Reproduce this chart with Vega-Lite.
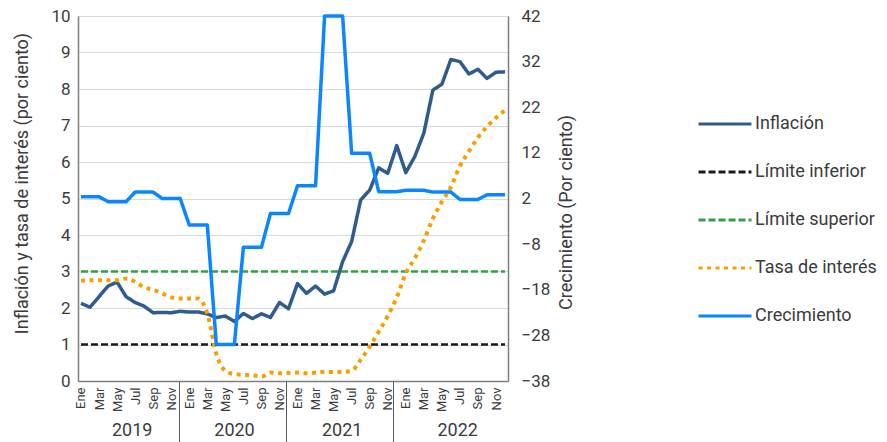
{
  "$schema": "https://vega.github.io/schema/vega-lite/v6.json",
  "width": 430,
  "height": 365,
  "autosize": {"type": "none"},
  "padding": {"left": 78, "top": 16, "right": 379, "bottom": 61},
  "background": "white",
  "config": {
    "view": {"stroke": null},
    "font": "Roboto",
    "axis": {
      "labelFont": "Roboto",
      "titleFont": "Roboto",
      "labelColor": "#3b3b3b",
      "titleColor": "#3b3b3b",
      "titleFontWeight": "normal",
      "ticks": false,
      "grid": false,
      "domainColor": "#7f7f7f",
      "domainWidth": 1.5
    },
    "legend": {
      "symbolType": "stroke",
      "symbolSize": 2800,
      "symbolStrokeWidth": 3,
      "labelFont": "Roboto",
      "labelFontSize": 18,
      "labelColor": "#3b3b3b",
      "labelOffset": 2,
      "rowPadding": 11,
      "padding": 0
    }
  },
  "data": {
    "values": [
      {"i": 0, "inf": 2.13, "tasa": 2.75, "crec": 2.4, "li": 1, "ls": 3},
      {"i": 1, "inf": 2.02, "tasa": 2.76, "crec": 2.4, "li": 1, "ls": 3},
      {"i": 2, "inf": 2.31, "tasa": 2.76, "crec": 2.4, "li": 1, "ls": 3},
      {"i": 3, "inf": 2.6, "tasa": 2.76, "crec": 1.3, "li": 1, "ls": 3},
      {"i": 4, "inf": 2.71, "tasa": 2.76, "crec": 1.3, "li": 1, "ls": 3},
      {"i": 5, "inf": 2.31, "tasa": 2.81, "crec": 1.3, "li": 1, "ls": 3},
      {"i": 6, "inf": 2.15, "tasa": 2.72, "crec": 3.4, "li": 1, "ls": 3},
      {"i": 7, "inf": 2.05, "tasa": 2.57, "crec": 3.4, "li": 1, "ls": 3},
      {"i": 8, "inf": 1.87, "tasa": 2.5, "crec": 3.4, "li": 1, "ls": 3},
      {"i": 9, "inf": 1.88, "tasa": 2.4, "crec": 2.0, "li": 1, "ls": 3},
      {"i": 10, "inf": 1.87, "tasa": 2.29, "crec": 2.0, "li": 1, "ls": 3},
      {"i": 11, "inf": 1.91, "tasa": 2.26, "crec": 2.0, "li": 1, "ls": 3},
      {"i": 12, "inf": 1.89, "tasa": 2.26, "crec": -3.8, "li": 1, "ls": 3},
      {"i": 13, "inf": 1.89, "tasa": 2.26, "crec": -3.8, "li": 1, "ls": 3},
      {"i": 14, "inf": 1.84, "tasa": 1.85, "crec": -3.8, "li": 1, "ls": 3},
      {"i": 15, "inf": 1.74, "tasa": 0.74, "crec": -30, "li": 1, "ls": 3},
      {"i": 16, "inf": 1.78, "tasa": 0.28, "crec": -30, "li": 1, "ls": 3},
      {"i": 17, "inf": 1.63, "tasa": 0.19, "crec": -30, "li": 1, "ls": 3},
      {"i": 18, "inf": 1.85, "tasa": 0.17, "crec": -8.7, "li": 1, "ls": 3},
      {"i": 19, "inf": 1.71, "tasa": 0.16, "crec": -8.7, "li": 1, "ls": 3},
      {"i": 20, "inf": 1.84, "tasa": 0.12, "crec": -8.7, "li": 1, "ls": 3},
      {"i": 21, "inf": 1.74, "tasa": 0.23, "crec": -1.3, "li": 1, "ls": 3},
      {"i": 22, "inf": 2.15, "tasa": 0.21, "crec": -1.3, "li": 1, "ls": 3},
      {"i": 23, "inf": 1.98, "tasa": 0.22, "crec": -1.3, "li": 1, "ls": 3},
      {"i": 24, "inf": 2.67, "tasa": 0.23, "crec": 4.8, "li": 1, "ls": 3},
      {"i": 25, "inf": 2.4, "tasa": 0.21, "crec": 4.8, "li": 1, "ls": 3},
      {"i": 26, "inf": 2.6, "tasa": 0.23, "crec": 4.8, "li": 1, "ls": 3},
      {"i": 27, "inf": 2.38, "tasa": 0.25, "crec": 42, "li": 1, "ls": 3},
      {"i": 28, "inf": 2.47, "tasa": 0.25, "crec": 42, "li": 1, "ls": 3},
      {"i": 29, "inf": 3.27, "tasa": 0.25, "crec": 42, "li": 1, "ls": 3},
      {"i": 30, "inf": 3.82, "tasa": 0.28, "crec": 11.9, "li": 1, "ls": 3},
      {"i": 31, "inf": 4.96, "tasa": 0.58, "crec": 11.9, "li": 1, "ls": 3},
      {"i": 32, "inf": 5.23, "tasa": 0.94, "crec": 11.9, "li": 1, "ls": 3},
      {"i": 33, "inf": 5.84, "tasa": 1.35, "crec": 3.5, "li": 1, "ls": 3},
      {"i": 34, "inf": 5.69, "tasa": 1.78, "crec": 3.5, "li": 1, "ls": 3},
      {"i": 35, "inf": 6.45, "tasa": 2.29, "crec": 3.5, "li": 1, "ls": 3},
      {"i": 36, "inf": 5.71, "tasa": 2.95, "crec": 3.8, "li": 1, "ls": 3},
      {"i": 37, "inf": 6.15, "tasa": 3.36, "crec": 3.8, "li": 1, "ls": 3},
      {"i": 38, "inf": 6.79, "tasa": 3.85, "crec": 3.8, "li": 1, "ls": 3},
      {"i": 39, "inf": 7.97, "tasa": 4.45, "crec": 3.4, "li": 1, "ls": 3},
      {"i": 40, "inf": 8.13, "tasa": 4.91, "crec": 3.4, "li": 1, "ls": 3},
      {"i": 41, "inf": 8.81, "tasa": 5.31, "crec": 3.4, "li": 1, "ls": 3},
      {"i": 42, "inf": 8.75, "tasa": 5.89, "crec": 1.8, "li": 1, "ls": 3},
      {"i": 43, "inf": 8.41, "tasa": 6.29, "crec": 1.8, "li": 1, "ls": 3},
      {"i": 44, "inf": 8.54, "tasa": 6.67, "crec": 1.8, "li": 1, "ls": 3},
      {"i": 45, "inf": 8.29, "tasa": 6.97, "crec": 2.8, "li": 1, "ls": 3},
      {"i": 46, "inf": 8.46, "tasa": 7.21, "crec": 2.8, "li": 1, "ls": 3},
      {"i": 47, "inf": 8.47, "tasa": 7.42, "crec": 2.8, "li": 1, "ls": 3}
    ]
  },
  "layer": [
    {
      "mark": {"type": "line", "strokeWidth": 3.5, "strokeJoin": "round"},
      "encoding": {
        "x": {
          "field": "i", "type": "quantitative",
          "scale": {"domain": [-0.33, 47.33], "nice": false, "zero": false},
          "axis": {
            "orient": "bottom",
            "title": null,
            "values": [0, 2, 4, 6, 8, 10, 12, 14, 16, 18, 20, 22, 24, 26, 28, 30, 32, 34, 36, 38, 40, 42, 44, 46],
            "labelExpr": "['Ene','Feb','Mar','Abr','May','Jun','Jul','Ago','Sep','Oct','Nov','Dic'][datum.value % 12]",
            "labelAngle": 270,
            "labelAlign": "right",
            "labelBaseline": "middle",
            "labelFontSize": 13,
            "labelPadding": 6,
            "labelOverlap": false,
            "labelFlush": false,
            "domain": true
          }
        },
        "y": {
          "field": "inf", "type": "quantitative",
          "scale": {"domain": [0, 10], "nice": false, "zero": false},
          "axis": {
            "orient": "left",
            "title": "Inflación y tasa de interés (por ciento)",
            "titleFontSize": 18,
            "titlePadding": 19,
            "titleY": 167,
            "values": [0, 1, 2, 3, 4, 5, 6, 7, 8, 9, 10],
            "labelFontSize": 17,
            "labelPadding": 8,
            "grid": true,
            "gridColor": "#d9d9d9",
            "gridWidth": 1,
            "domain": true
          }
        },
        "color": {
          "datum": "Inflación",
          "scale": {"domain": ["Inflación", "Límite inferior", "Límite superior", "Tasa de interés", "Crecimiento"], "range": ["#2f5b8e", "#1a1a1a", "#2ca244", "#f5a000", "#0a86ff"]},
          "legend": {"title": null, "orient": "none", "legendX": 619, "legendY": 80}
        },
        "strokeDash": {
          "datum": "Inflación",
          "scale": {"domain": ["Inflación", "Límite inferior", "Límite superior", "Tasa de interés", "Crecimiento"], "range": [[1, 0], [7, 3], [7, 3], [4, 4.5], [1, 0]]},
          "legend": {"title": null, "orient": "none", "legendX": 619, "legendY": 80}
        }
      }
    },
    {
      "mark": {"type": "line", "strokeWidth": 2.5},
      "encoding": {
        "x": {
          "field": "i", "type": "quantitative",
          "scale": {"domain": [-0.33, 47.33], "nice": false, "zero": false},
          "axis": {
            "orient": "bottom",
            "title": null,
            "values": [10.9, 22.72, 34.58],
            "labels": false,
            "ticks": true,
            "tickSize": 62,
            "tickColor": "#595959",
            "tickWidth": 1,
            "domain": false,
            "grid": false
          }
        },
        "y": {
          "field": "li", "type": "quantitative",
          "scale": {"domain": [0, 10], "nice": false, "zero": false},
          "axis": null
        },
        "color": {
          "datum": "Límite inferior",
          "scale": {"domain": ["Inflación", "Límite inferior", "Límite superior", "Tasa de interés", "Crecimiento"], "range": ["#2f5b8e", "#1a1a1a", "#2ca244", "#f5a000", "#0a86ff"]},
          "legend": {"title": null, "orient": "none", "legendX": 619, "legendY": 80}
        },
        "strokeDash": {
          "datum": "Límite inferior",
          "scale": {"domain": ["Inflación", "Límite inferior", "Límite superior", "Tasa de interés", "Crecimiento"], "range": [[1, 0], [7, 3], [7, 3], [4, 4.5], [1, 0]]},
          "legend": {"title": null, "orient": "none", "legendX": 619, "legendY": 80}
        }
      }
    },
    {
      "mark": {"type": "line", "strokeWidth": 2.5},
      "encoding": {
        "x": {
          "field": "i", "type": "quantitative",
          "scale": {"domain": [-0.33, 47.33], "nice": false, "zero": false},
          "axis": null
        },
        "y": {
          "field": "ls", "type": "quantitative",
          "scale": {"domain": [0, 10], "nice": false, "zero": false},
          "axis": null
        },
        "color": {
          "datum": "Límite superior",
          "scale": {"domain": ["Inflación", "Límite inferior", "Límite superior", "Tasa de interés", "Crecimiento"], "range": ["#2f5b8e", "#1a1a1a", "#2ca244", "#f5a000", "#0a86ff"]},
          "legend": {"title": null, "orient": "none", "legendX": 619, "legendY": 80}
        },
        "strokeDash": {
          "datum": "Límite superior",
          "scale": {"domain": ["Inflación", "Límite inferior", "Límite superior", "Tasa de interés", "Crecimiento"], "range": [[1, 0], [7, 3], [7, 3], [4, 4.5], [1, 0]]},
          "legend": {"title": null, "orient": "none", "legendX": 619, "legendY": 80}
        }
      }
    },
    {
      "mark": {"type": "line", "strokeWidth": 4, "interpolate": "monotone"},
      "encoding": {
        "x": {
          "field": "i", "type": "quantitative",
          "scale": {"domain": [-0.33, 47.33], "nice": false, "zero": false},
          "axis": null
        },
        "y": {
          "field": "tasa", "type": "quantitative",
          "scale": {"domain": [0, 10], "nice": false, "zero": false},
          "axis": null
        },
        "color": {
          "datum": "Tasa de interés",
          "scale": {"domain": ["Inflación", "Límite inferior", "Límite superior", "Tasa de interés", "Crecimiento"], "range": ["#2f5b8e", "#1a1a1a", "#2ca244", "#f5a000", "#0a86ff"]},
          "legend": {"title": null, "orient": "none", "legendX": 619, "legendY": 80}
        },
        "strokeDash": {
          "datum": "Tasa de interés",
          "scale": {"domain": ["Inflación", "Límite inferior", "Límite superior", "Tasa de interés", "Crecimiento"], "range": [[1, 0], [7, 3], [7, 3], [4, 4.5], [1, 0]]},
          "legend": {"title": null, "orient": "none", "legendX": 619, "legendY": 80}
        }
      }
    },
    {
      "mark": {"type": "line", "strokeWidth": 3.5, "strokeJoin": "round"},
      "encoding": {
        "x": {
          "field": "i", "type": "quantitative",
          "scale": {"domain": [-0.33, 47.33], "nice": false, "zero": false},
          "axis": {
            "orient": "bottom",
            "title": null,
            "values": [5.62, 16.96, 28.9, 41.7],
            "labelExpr": "floor(datum.value / 12) + 2019",
            "labelFontSize": 18,
            "labelPadding": 40,
            "labelFlush": false,
            "labelOverlap": false,
            "ticks": false,
            "domain": false,
            "grid": false
          }
        },
        "y": {
          "field": "crec", "type": "quantitative",
          "scale": {"domain": [-38, 42], "nice": false, "zero": false},
          "axis": {
            "orient": "right",
            "title": "Crecimiento (Por ciento)",
            "titleFontSize": 18,
            "titleAngle": 270,
            "titleBaseline": "bottom",
            "titlePadding": 26,
            "titleY": 196,
            "values": [-38, -28, -18, -8, 2, 12, 22, 32, 42],
            "labelFontSize": 17,
            "labelPadding": 13,
            "grid": false,
            "domain": true
          }
        },
        "color": {
          "datum": "Crecimiento",
          "scale": {"domain": ["Inflación", "Límite inferior", "Límite superior", "Tasa de interés", "Crecimiento"], "range": ["#2f5b8e", "#1a1a1a", "#2ca244", "#f5a000", "#0a86ff"]},
          "legend": {"title": null, "orient": "none", "legendX": 619, "legendY": 80}
        },
        "strokeDash": {
          "datum": "Crecimiento",
          "scale": {"domain": ["Inflación", "Límite inferior", "Límite superior", "Tasa de interés", "Crecimiento"], "range": [[1, 0], [7, 3], [7, 3], [4, 4.5], [1, 0]]},
          "legend": {"title": null, "orient": "none", "legendX": 619, "legendY": 80}
        }
      }
    }
  ],
  "resolve": {
    "scale": {"y": "independent"},
    "axis": {"x": "independent", "y": "independent"}
  }
}
